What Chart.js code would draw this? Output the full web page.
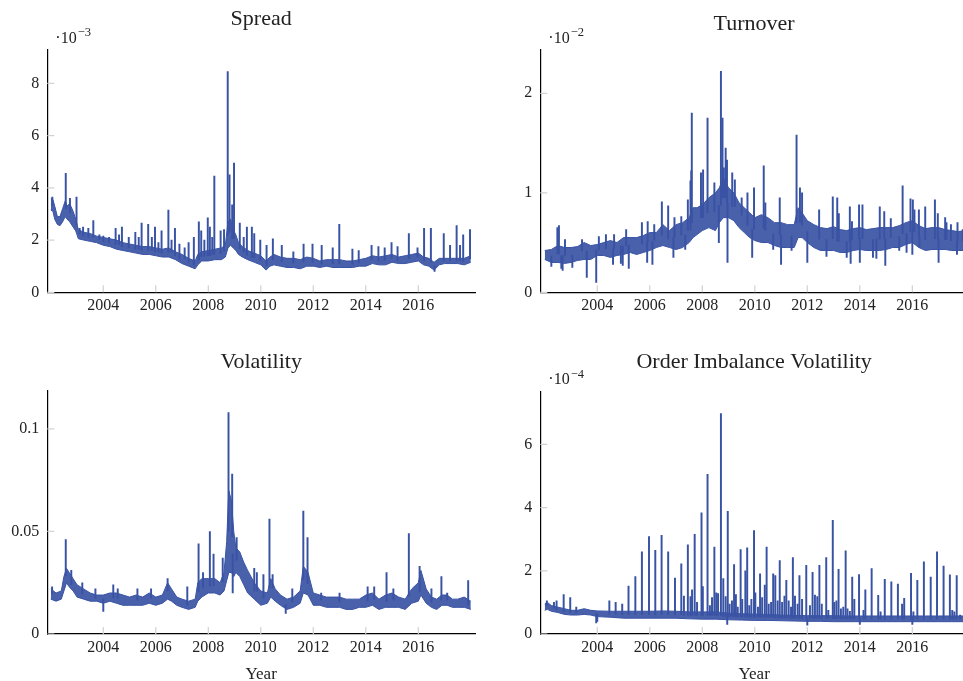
<!DOCTYPE html>
<html>
<head>
<meta charset="utf-8">
<script src="https://cdn.jsdelivr.net/npm/chart.js@4.4.0/dist/chart.umd.min.js"></script>
<style>
  html, body { margin: 0; padding: 0; background: #fff; overflow: hidden; width: 963px; height: 681px; }
  canvas { position: absolute; }
</style>
</head>
<body>
<canvas id="spread" width="480" height="340" style="left:0;top:0"></canvas>
<canvas id="turnover" width="490" height="340" style="left:480px;top:0"></canvas>
<canvas id="vol" width="480" height="341" style="left:0;top:340px"></canvas>
<canvas id="oiv" width="490" height="341" style="left:480px;top:340px"></canvas>
<script>
// values; band = low/high envelope of the daily series, spikes = single days
const xTickYears = [2004, 2006, 2008, 2010, 2012, 2014, 2016];

// Spread (x 1e-3)
const spreadYears = [2002.00, 2002.08, 2002.15, 2002.25, 2002.35, 2002.45, 2002.55, 2002.62, 2002.72, 2002.85, 2002.95,
  2003.05, 2003.25, 2003.5, 2003.75, 2004.0, 2004.25, 2004.5, 2004.75, 2005.0, 2005.25, 2005.5, 2005.75,
  2006.0, 2006.25, 2006.5, 2006.75, 2007.0, 2007.25, 2007.5, 2007.6, 2007.75,
  2008.0, 2008.25, 2008.5, 2008.65, 2008.75, 2008.85, 2008.95, 2009.05, 2009.15, 2009.3, 2009.5, 2009.75,
  2010.0, 2010.2, 2010.35, 2010.5, 2010.75, 2011.0, 2011.25, 2011.5, 2011.75, 2012.0, 2012.25, 2012.5, 2012.75,
  2013.0, 2013.25, 2013.5, 2013.75, 2014.0, 2014.25, 2014.5, 2014.75, 2015.0, 2015.25, 2015.5, 2015.75,
  2016.0, 2016.2, 2016.4, 2016.6, 2016.8, 2017.0, 2017.25, 2017.5, 2017.75, 2018.0];
const spreadLow = [3.15, 3.1, 2.8, 2.6, 2.55, 2.7, 2.9, 2.8, 2.7, 2.5, 2.35,
  2.05, 2.0, 1.95, 1.9, 1.8, 1.75, 1.65, 1.6, 1.55, 1.5, 1.45, 1.45,
  1.4, 1.35, 1.35, 1.25, 1.1, 1.0, 0.9, 1.05, 1.2,
  1.2, 1.25, 1.25, 1.35, 1.7, 1.8, 1.7, 1.6, 1.45, 1.35, 1.25, 1.15,
  1.05, 0.85, 1.0, 1.05, 1.0, 0.95, 0.95, 0.9, 1.0, 1.0, 0.95, 1.0, 0.95,
  0.95, 0.95, 0.95, 1.0, 1.0, 1.1, 1.05, 1.05, 1.15, 1.1, 1.1, 1.15,
  1.2, 1.05, 1.0, 0.85, 1.05, 1.1, 1.1, 1.1, 1.05, 1.15];
const spreadHigh = [3.6, 3.55, 3.3, 2.9, 2.9, 3.2, 3.5, 3.3, 3.4, 3.1, 2.8,
  2.4, 2.3, 2.25, 2.15, 2.1, 2.05, 2.0, 1.9, 1.85, 1.8, 1.75, 1.75,
  1.7, 1.65, 1.7, 1.55, 1.45, 1.3, 1.2, 1.45, 1.55,
  1.6, 1.65, 1.7, 1.8, 2.7, 2.8, 2.4, 2.2, 1.9, 1.75, 1.6, 1.5,
  1.4, 1.2, 1.35, 1.45, 1.35, 1.3, 1.3, 1.25, 1.35, 1.3, 1.2, 1.25, 1.25,
  1.25, 1.2, 1.2, 1.25, 1.3, 1.4, 1.35, 1.4, 1.45, 1.35, 1.4, 1.45,
  1.5, 1.35, 1.3, 1.15, 1.3, 1.3, 1.3, 1.3, 1.3, 1.4];
const spreadSpikeYears = [2002.06, 2002.57, 2002.73, 2002.98, 2003.1, 2003.23, 2003.43, 2003.62, 2003.85,
  2004.0, 2004.22, 2004.47, 2004.6, 2004.71, 2004.97, 2005.22, 2005.35, 2005.46, 2005.71, 2005.85, 2005.97,
  2006.1, 2006.22, 2006.48, 2006.6, 2006.73, 2006.9, 2007.1, 2007.25, 2007.45, 2007.64, 2007.73, 2007.85, 2007.98,
  2008.06, 2008.15, 2008.23, 2008.47, 2008.6, 2008.74, 2008.81, 2008.91, 2008.98,
  2009.2, 2009.35, 2009.47, 2009.66, 2009.75, 2009.98, 2010.22, 2010.46, 2010.8, 2011.24, 2011.63, 2011.97,
  2012.32, 2012.74, 2012.99, 2013.49, 2013.73, 2014.22, 2014.48, 2014.72, 2014.98, 2015.21, 2015.64, 2015.97,
  2016.22, 2016.48, 2016.62, 2016.97, 2017.21, 2017.46, 2017.59, 2017.71, 2017.97];
const spreadSpikeValues = [3.65, 4.55, 3.6, 3.65, 2.45, 2.5, 2.45, 2.75, 2.2,
  2.15, 2.1, 2.45, 2.2, 2.5, 2.1, 2.3, 2.1, 2.65, 2.6, 2.1, 2.5,
  1.9, 2.35, 3.15, 2.0, 2.45, 1.85, 1.7, 1.9, 2.1, 2.7, 2.35, 2.0, 2.85,
  2.5, 2.1, 4.45, 2.35, 2.4, 8.45, 4.5, 3.35, 4.95,
  2.65, 2.1, 2.5, 2.5, 2.25, 2.0, 1.8, 2.05, 1.8, 1.55, 1.85, 1.85,
  1.8, 1.7, 2.6, 1.65, 1.6, 1.8, 1.75, 1.7, 1.9, 1.75, 2.25, 1.7,
  2.45, 2.45, 0.8, 2.25, 1.8, 2.55, 1.8, 2.2, 2.4];
const spreadTicks = [0, 2, 4, 6, 8];

// Turnover (x 1e-2)
const turnoverYears = [2002.0, 2002.25, 2002.5, 2002.75, 2003.0, 2003.25, 2003.5, 2003.75, 2004.0, 2004.25, 2004.5, 2004.75,
  2005.0, 2005.25, 2005.5, 2005.75, 2006.0, 2006.25, 2006.5, 2006.75, 2007.0, 2007.25, 2007.5, 2007.65, 2007.8,
  2008.0, 2008.25, 2008.5, 2008.65, 2008.8, 2009.0, 2009.2, 2009.4, 2009.6, 2009.8, 2010.0, 2010.25, 2010.5, 2010.75,
  2011.0, 2011.25, 2011.5, 2011.65, 2011.8, 2012.0, 2012.25, 2012.5, 2012.75, 2013.0, 2013.25, 2013.5, 2013.75,
  2014.0, 2014.25, 2014.5, 2014.75, 2015.0, 2015.25, 2015.5, 2015.75, 2016.0, 2016.25, 2016.5, 2016.75,
  2017.0, 2017.25, 2017.5, 2017.75, 2018.0];
const turnoverLow = [0.33, 0.3, 0.3, 0.29, 0.3, 0.32, 0.33, 0.33, 0.37, 0.37, 0.35, 0.37,
  0.38, 0.4, 0.38, 0.4, 0.42, 0.45, 0.47, 0.45, 0.43, 0.45, 0.5, 0.55, 0.58,
  0.62, 0.65, 0.62, 0.7, 0.75, 0.75, 0.72, 0.65, 0.6, 0.55, 0.52, 0.5, 0.5, 0.47,
  0.45, 0.45, 0.45, 0.55, 0.55, 0.5, 0.45, 0.42, 0.42, 0.42, 0.4, 0.4, 0.42,
  0.43, 0.42, 0.42, 0.42, 0.43, 0.45, 0.45, 0.48, 0.5, 0.45, 0.42, 0.43,
  0.43, 0.43, 0.42, 0.42, 0.42];
const turnoverHigh = [0.42, 0.43, 0.47, 0.45, 0.45, 0.46, 0.5, 0.47, 0.48, 0.5, 0.52, 0.5,
  0.55, 0.55, 0.55, 0.57, 0.6, 0.6, 0.68, 0.62, 0.68, 0.7, 0.75, 0.85, 0.85,
  0.88, 0.95, 1.0, 1.05, 1.15, 1.05, 1.0, 0.9, 0.85, 0.8, 0.75, 0.78, 0.75, 0.7,
  0.7, 0.68, 0.68, 0.85, 0.8, 0.72, 0.68, 0.65, 0.64, 0.66, 0.63, 0.62, 0.64,
  0.65, 0.63, 0.64, 0.65, 0.65, 0.65, 0.67, 0.7, 0.72, 0.67, 0.64, 0.65,
  0.65, 0.63, 0.62, 0.61, 0.62];
const turnoverSpikeYears = [2002.25, 2002.48, 2002.54, 2002.63, 2002.68, 2002.77, 2003.05, 2003.42, 2003.6, 2003.96,
  2004.06, 2004.33, 2004.6, 2004.64, 2004.9, 2004.97, 2005.1, 2005.2, 2005.7, 2005.9,
  2005.92, 2006.1, 2006.17, 2006.46, 2006.7, 2006.9, 2006.94, 2007.2, 2007.35, 2007.45,
  2007.55, 2007.58, 2007.6, 2007.95, 2008.03, 2008.2, 2008.46, 2008.63, 2008.71, 2008.77,
  2008.82, 2008.89, 2008.94, 2008.96, 2009.14, 2009.24, 2009.5, 2009.72, 2009.9, 2009.97,
  2010.34, 2010.4, 2010.7, 2010.95, 2011.0, 2011.4, 2011.59, 2011.72, 2011.8, 2012.0,
  2012.45, 2012.73, 2012.97, 2013.14, 2013.2, 2013.5, 2013.62, 2013.65, 2013.7, 2013.97,
  2014.0, 2014.1, 2014.5, 2014.63, 2014.76, 2014.93, 2014.97, 2015.18, 2015.5, 2015.63,
  2015.78, 2015.93, 2016.0, 2016.02, 2016.08, 2016.25, 2016.27, 2016.49, 2016.86, 2016.97,
  2017.0, 2017.25, 2017.3, 2017.47, 2017.7, 2017.72, 2017.92];
const turnoverSpikeValues = [0.26, 0.65, 0.67, 0.24, 0.22, 0.53, 0.25, 0.53, 0.15, 0.1,
  0.56, 0.58, 0.28, 0.58, 0.29, 0.27, 0.63, 0.24, 0.7, 0.3,
  0.71, 0.28, 0.68, 0.91, 0.87, 0.35, 0.75, 0.76, 0.43, 0.93,
  1.12, 1.22, 1.8, 1.2, 1.23, 1.75, 1.1, 0.5, 2.22, 1.75,
  1.25, 1.45, 1.33, 0.3, 1.2, 1.13, 0.95, 1.0, 0.35, 1.05,
  1.27, 0.9, 0.43, 0.95, 0.28, 0.42, 1.58, 1.05, 1.0, 0.3,
  0.83, 0.36, 0.96, 0.95, 0.79, 0.35, 0.86, 0.29, 0.71, 0.88,
  0.3, 0.88, 0.35, 0.34, 0.86, 0.81, 0.27, 0.74, 0.42, 1.07,
  0.4, 0.94, 0.38, 0.93, 0.83, 0.83, 0.45, 0.86, 0.93, 0.79,
  0.3, 0.75, 0.7, 0.68, 0.38, 0.7, 0.63];
const turnoverTicks = [0, 1, 2];

// Volatility
const volYears = [2002.0, 2002.2, 2002.4, 2002.5, 2002.6, 2002.7, 2002.85, 2003.0, 2003.25, 2003.5, 2003.75,
  2004.0, 2004.25, 2004.5, 2004.75, 2005.0, 2005.25, 2005.5, 2005.75, 2006.0, 2006.25, 2006.45, 2006.6, 2006.8,
  2007.0, 2007.25, 2007.5, 2007.6, 2007.75, 2008.0, 2008.25, 2008.45, 2008.6, 2008.7, 2008.78, 2008.88, 2008.97,
  2009.05, 2009.2, 2009.35, 2009.5, 2009.75, 2010.0, 2010.25, 2010.38, 2010.55, 2010.75,
  2011.0, 2011.25, 2011.5, 2011.62, 2011.8, 2012.0, 2012.25, 2012.5, 2012.75, 2013.0, 2013.25, 2013.5, 2013.75,
  2014.0, 2014.25, 2014.5, 2014.75, 2015.0, 2015.25, 2015.5, 2015.75,
  2016.0, 2016.1, 2016.3, 2016.5, 2016.7, 2016.9, 2017.1, 2017.3, 2017.5, 2017.75, 2018.0];
const volLow = [0.017, 0.016, 0.017, 0.021, 0.025, 0.023, 0.021, 0.018, 0.017, 0.016, 0.016,
  0.015, 0.016, 0.015, 0.014, 0.014, 0.014, 0.014, 0.015, 0.014, 0.015, 0.017, 0.016, 0.014,
  0.013, 0.012, 0.013, 0.016, 0.018, 0.02, 0.02, 0.019, 0.021, 0.026, 0.03, 0.03, 0.028,
  0.03, 0.028, 0.024, 0.02, 0.017, 0.014, 0.015, 0.018, 0.016, 0.014,
  0.012, 0.013, 0.015, 0.02, 0.019, 0.014, 0.014, 0.013, 0.013, 0.013, 0.012, 0.012, 0.013,
  0.013, 0.014, 0.012, 0.013, 0.013, 0.013, 0.012, 0.015,
  0.016, 0.019, 0.015, 0.013, 0.012, 0.014, 0.014, 0.013, 0.013, 0.013, 0.012];
const volHigh = [0.022, 0.02, 0.021, 0.028, 0.032, 0.03, 0.027, 0.024, 0.022, 0.02, 0.019,
  0.019, 0.02, 0.02, 0.019, 0.018, 0.019, 0.018, 0.02, 0.018, 0.019, 0.025, 0.022, 0.018,
  0.017, 0.016, 0.017, 0.025, 0.027, 0.027, 0.027, 0.025, 0.03, 0.045, 0.07, 0.065, 0.05,
  0.042, 0.04, 0.035, 0.031, 0.025, 0.021, 0.02, 0.027, 0.022, 0.019,
  0.017, 0.018, 0.021, 0.033, 0.03, 0.02, 0.019, 0.018, 0.018, 0.018, 0.017, 0.017, 0.017,
  0.019, 0.02, 0.017, 0.019, 0.02, 0.018, 0.017, 0.022,
  0.025, 0.031, 0.022, 0.018, 0.017, 0.019, 0.019, 0.017, 0.017, 0.018, 0.016];
const volSpikeYears = [2002.05, 2002.57, 2002.78, 2003.2, 2003.7, 2004.0, 2004.38, 2004.55, 2005.3, 2005.82,
  2006.45, 2007.2, 2007.63, 2007.8, 2008.06, 2008.2, 2008.55, 2008.77, 2008.91, 2008.93,
  2009.08, 2009.75, 2009.85, 2010.1, 2010.33, 2010.45, 2010.95, 2011.2, 2011.62, 2011.78,
  2012.3, 2013.0, 2014.07, 2014.32, 2014.79, 2015.05, 2015.64, 2016.05, 2016.5, 2016.88,
  2017.1, 2017.9];
const volSpikeValues = [0.023, 0.046, 0.031, 0.025, 0.022, 0.011, 0.024, 0.022, 0.022, 0.022,
  0.027, 0.023, 0.044, 0.03, 0.05, 0.039, 0.037, 0.108, 0.078, 0.02,
  0.047, 0.032, 0.03, 0.029, 0.056, 0.029, 0.01, 0.022, 0.06, 0.047,
  0.02, 0.02, 0.023, 0.023, 0.03, 0.022, 0.049, 0.033, 0.022, 0.028,
  0.02, 0.026];
const volTicks = [0, 0.05, 0.1];

// Order imbalance volatility (x 1e-4)
const oivYears = [2002.0, 2002.1, 2002.25, 2002.5, 2002.75, 2003.0, 2003.25, 2003.5, 2003.75, 2004.0,
  2004.5, 2005.0, 2005.5, 2006.0, 2006.5, 2007.0, 2007.5, 2008.0, 2008.5, 2009.0,
  2009.5, 2010.0, 2010.5, 2011.0, 2011.5, 2012.0, 2012.5, 2013.0, 2013.5, 2014.0,
  2014.5, 2015.0, 2015.5, 2016.0, 2016.5, 2017.0, 2017.5, 2018.0];
const oivLow = [0.75, 0.78, 0.72, 0.68, 0.62, 0.6, 0.6, 0.62, 0.6, 0.55,
  0.53, 0.5, 0.5, 0.5, 0.5, 0.5, 0.48, 0.47, 0.47, 0.45,
  0.44, 0.43, 0.43, 0.42, 0.41, 0.4, 0.4, 0.39, 0.39, 0.39,
  0.39, 0.39, 0.39, 0.39, 0.39, 0.39, 0.39, 0.39];
const oivHigh = [0.95, 1.0, 0.9, 0.85, 0.8, 0.75, 0.75, 0.8, 0.75, 0.73,
  0.72, 0.72, 0.72, 0.72, 0.73, 0.72, 0.7, 0.7, 0.7, 0.66,
  0.64, 0.63, 0.62, 0.6, 0.59, 0.58, 0.58, 0.58, 0.57, 0.57,
  0.57, 0.57, 0.57, 0.57, 0.57, 0.57, 0.57, 0.57];
const oivSpikeYears = [2002.08, 2002.35, 2002.45, 2002.72, 2002.97, 2003.2, 2003.96, 2004.0, 2004.46, 2004.7,
  2004.95, 2005.19, 2005.45, 2005.7, 2005.97, 2006.21, 2006.45, 2006.7, 2006.96, 2007.2,
  2007.3, 2007.45, 2007.55, 2007.61, 2007.71, 2007.8, 2007.97, 2008.02, 2008.2, 2008.29,
  2008.37, 2008.46, 2008.53, 2008.6, 2008.71, 2008.8, 2008.89, 2008.95, 2008.97, 2009.04,
  2009.13, 2009.21, 2009.28, 2009.35, 2009.46, 2009.52, 2009.64, 2009.71, 2009.79, 2009.87,
  2009.97, 2010.02, 2010.12, 2010.2, 2010.28, 2010.38, 2010.45, 2010.53, 2010.62, 2010.7,
  2010.78, 2010.87, 2010.95, 2011.04, 2011.13, 2011.2, 2011.29, 2011.38, 2011.45, 2011.53,
  2011.63, 2011.7, 2011.8, 2011.96, 2012.0, 2012.1, 2012.2, 2012.29, 2012.38, 2012.46,
  2012.55, 2012.72, 2012.8, 2012.97, 2013.03, 2013.11, 2013.19, 2013.28, 2013.37, 2013.46,
  2013.53, 2013.62, 2013.71, 2013.79, 2013.97, 2014.0, 2014.14, 2014.21, 2014.45, 2014.7,
  2014.79, 2014.95, 2015.2, 2015.45, 2015.61, 2015.69, 2015.95, 2016.0, 2016.04, 2016.19,
  2016.44, 2016.7, 2016.94, 2017.19, 2017.43, 2017.52, 2017.6, 2017.69, 2017.82];
const oivSpikeValues = [1.05, 1.0, 1.05, 1.25, 1.15, 0.85, 0.35, 0.4, 1.05, 1.0,
  0.95, 1.52, 1.82, 2.6, 3.08, 2.65, 3.12, 2.6, 1.77, 2.22,
  1.2, 2.82, 1.18, 1.4, 3.15, 1.0, 3.83, 1.5, 5.05, 0.9,
  1.15, 2.75, 1.3, 1.28, 6.97, 1.75, 1.18, 0.3, 3.88, 0.95,
  1.05, 2.2, 1.25, 0.85, 2.67, 1.1, 2.0, 2.73, 0.9, 1.1,
  3.27, 1.3, 0.85, 1.9, 1.15, 1.55, 2.75, 0.95, 1.0, 1.9,
  1.85, 1.05, 2.32, 1.0, 1.2, 1.7, 1.05, 0.85, 2.42, 1.2,
  0.95, 1.85, 1.1, 2.17, 0.28, 0.9, 1.95, 1.23, 1.18, 2.17,
  0.95, 2.42, 0.75, 3.6, 1.0, 1.05, 2.05, 0.8, 0.85, 2.63,
  0.8, 0.72, 1.8, 1.1, 1.88, 0.3, 0.75, 1.4, 2.07, 1.22,
  0.7, 1.73, 1.65, 1.58, 0.95, 1.13, 1.92, 0.3, 0.7, 1.7,
  2.28, 1.8, 2.6, 2.15, 1.87, 0.75, 0.7, 1.85, 0.6];
const oivTicks = [0, 2, 4, 6];

const BLUE = '#3953a4';
const FONT = '"Liberation Serif", "Times New Roman", serif';
Chart.defaults.font.family = FONT;
Chart.defaults.color = '#222';

const innerTicks = {
  id: 'innerTicks',
  beforeDatasetsDraw(chart) {
    const { ctx, chartArea: a, scales: { x, y } } = chart;
    ctx.save();
    ctx.strokeStyle = '#d2d2d2';
    ctx.lineWidth = 1.2;
    ctx.beginPath();
    x.ticks.forEach(t => {
      const px = x.getPixelForValue(t.value);
      ctx.moveTo(px, a.bottom); ctx.lineTo(px, a.bottom - 7);
    });
    y.ticks.forEach(t => {
      const py = y.getPixelForValue(t.value);
      ctx.moveTo(a.left, py); ctx.lineTo(a.left + 7, py);
    });
    ctx.stroke();
    ctx.restore();
  }
};

function multiplier(exp) {
  return {
    id: 'multiplier',
    afterDraw(chart) {
      if (!exp) return;
      const { ctx, chartArea: a } = chart;
      const x = a.left + 8, base = a.top - 7.5;
      ctx.save();
      ctx.fillStyle = '#222';
      ctx.textBaseline = 'alphabetic';
      ctx.font = '16px ' + FONT;
      ctx.fillText('\u00b710', x, base);
      const w = ctx.measureText('\u00b710').width;
      ctx.font = '12.5px ' + FONT;
      ctx.fillText('\u2212' + exp, x + w + 1, base - 6.5);
      ctx.restore();
    }
  };
}

function makePanel(id, p) {
  // spikes start from the middle of the band at the closest sample
  const bandMid = yr => {
    let best = 0;
    p.years.forEach((v, i) => { if (Math.abs(v - yr) < Math.abs(p.years[best] - yr)) best = i; });
    return (p.low[best] + p.high[best]) / 2;
  };
  new Chart(document.getElementById(id), {
    type: 'line',
    data: {
      datasets: [
        { data: p.years.map((x, i) => ({ x, y: p.low[i] })), borderColor: BLUE, borderWidth: 1, pointRadius: 0, fill: false, tension: 0 },
        { data: p.years.map((x, i) => ({ x, y: p.high[i] })), borderColor: BLUE, borderWidth: 1, pointRadius: 0, fill: '-1', backgroundColor: 'rgba(57, 83, 164, 0.92)', tension: 0 },
        {
          type: 'bar',
          data: p.spikeYears.map((x, i) => {
            const b = bandMid(x), v = p.spikeValues[i];
            return { x, y: v > b ? [b, v] : [v, b] };
          }),
          backgroundColor: BLUE, borderWidth: 0, barThickness: 1.3, grouped: false
        }
      ]
    },
    options: {
      responsive: false,
      animation: false,
      events: [],
      layout: { padding: { left: 0, right: p.padRight, top: 0, bottom: 0 } },
      plugins: {
        legend: { display: false },
        tooltip: { enabled: false },
        title: {
          display: true, text: p.title, fullSize: false, color: '#222',
          font: { size: 22, weight: 'normal' },
          padding: { top: p.titleTop, bottom: p.titleBottom }
        }
      },
      scales: {
        x: {
          type: 'linear', min: p.xMin, max: p.xMax, offset: false,
          grid: { display: false, drawTicks: false },
          border: { display: true, color: '#000', width: 1.2 },
          afterBuildTicks: s => { s.ticks = xTickYears.map(v => ({ value: v })); },
          afterFit: s => { s.height = p.xAxisHeight; },
          ticks: { padding: 4, color: '#222', font: { size: 16 }, maxRotation: 0, autoSkip: false, callback: v => String(v) },
          title: { display: p.showYear, text: 'Year', color: '#222', font: { size: 17, lineHeight: 0.75 }, padding: 0 }
        },
        y: {
          type: 'linear', min: 0, max: p.yMax,
          grid: { display: false, drawTicks: false },
          border: { display: true, color: '#000', width: 1.2 },
          afterBuildTicks: s => { s.ticks = p.yTicks.map(v => ({ value: v })); },
          afterFit: s => { s.width = p.yAxisWidth; },
          ticks: { padding: 8, color: '#222', font: { size: 16 }, callback: v => String(v) }
        }
      }
    },
    plugins: [innerTicks, multiplier(p.exp)]
  });
}

makePanel('spread', {
  title: 'Spread', years: spreadYears, low: spreadLow, high: spreadHigh,
  spikeYears: spreadSpikeYears, spikeValues: spreadSpikeValues, yTicks: spreadTicks, yMax: 9.276, exp: '3',
  xMin: 2001.867, xMax: 2018.16, padRight: 5, yAxisWidth: 47.3, xAxisHeight: 47.7,
  titleTop: 6, titleBottom: 17.6, showYear: false
});
makePanel('turnover', {
  title: 'Turnover', years: turnoverYears, low: turnoverLow, high: turnoverHigh,
  spikeYears: turnoverSpikeYears, spikeValues: turnoverSpikeValues, yTicks: turnoverTicks, yMax: 2.435, exp: '2',
  xMin: 2001.83, xMax: 2018.12, padRight: 2, yAxisWidth: 60.3, xAxisHeight: 47.7,
  titleTop: 11, titleBottom: 12.6, showYear: false
});
makePanel('vol', {
  title: 'Volatility', years: volYears, low: volLow, high: volHigh,
  spikeYears: volSpikeYears, spikeValues: volSpikeValues, yTicks: volTicks, yMax: 0.1185, exp: null,
  xMin: 2001.867, xMax: 2018.16, padRight: 5, yAxisWidth: 47.3, xAxisHeight: 47,
  titleTop: 8.8, titleBottom: 15.8, showYear: true
});
makePanel('oiv', {
  title: 'Order Imbalance Volatility', years: oivYears, low: oivLow, high: oivHigh,
  spikeYears: oivSpikeYears, spikeValues: oivSpikeValues, yTicks: oivTicks, yMax: 7.666, exp: '4',
  xMin: 2001.83, xMax: 2018.12, padRight: 2, yAxisWidth: 60.3, xAxisHeight: 47,
  titleTop: 8.8, titleBottom: 16.5, showYear: true
});
</script>
</body>
</html>
